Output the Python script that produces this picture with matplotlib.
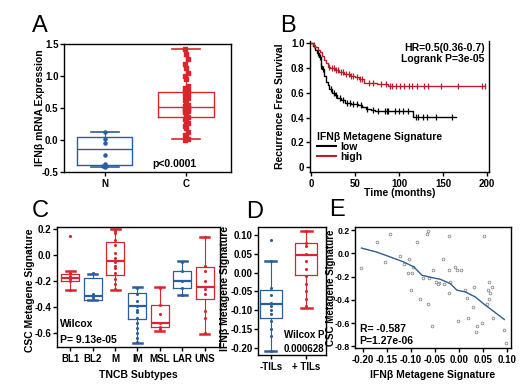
import numpy as np
import matplotlib
matplotlib.use("Agg")
import matplotlib.pyplot as plt
from matplotlib.lines import Line2D

plt.rcParams['font.family'] = ['Liberation Sans', 'DejaVu Sans']
plt.rcParams['font.weight'] = 'bold'
plt.rcParams['axes.labelweight'] = 'bold'
plt.rcParams['axes.linewidth'] = 1.0
plt.rcParams['xtick.major.width'] = 1.0
plt.rcParams['ytick.major.width'] = 1.0
plt.rcParams['xtick.major.size'] = 3
plt.rcParams['ytick.major.size'] = 3
plt.rcParams['xtick.major.pad'] = 2
plt.rcParams['ytick.major.pad'] = 1

RED = '#d8262c'
BLUE = '#2b5e9c'
W, H = 532, 389

# ---------------- data ----------------
# Panel A
a_groups = ['N', 'C']
a_stats_N = dict(whislo=-0.42, q1=-0.385, med=-0.145, q3=0.04, whishi=0.12)
a_stats_C = dict(whislo=0.01, q1=0.355, med=0.52, q3=0.745, whishi=1.42)
a_pts_N = [0.12, 0.02, -0.05, -0.24, -0.37, -0.40, -0.41, -0.42]
a_pts_C = [1.42, 1.35, 1.27, 1.18, 1.12, 1.05, 1.0, 0.95, 0.85, 0.82, 0.80, 0.78,
           0.76, 0.74, 0.72, 0.70, 0.68, 0.65, 0.62, 0.58, 0.55, 0.53, 0.52, 0.51,
           0.50, 0.49, 0.48, 0.47, 0.46, 0.45, 0.43, 0.40, 0.36, 0.33, 0.30, 0.27,
           0.22, 0.18, 0.12, 0.08, 0.04, 0.01, 0.0]

# Panel B (Kaplan-Meier)
low_t = [0, 2, 5, 7, 9, 11, 12, 13, 15, 17, 19, 21, 24, 27, 30, 34, 39, 45, 54, 58, 62, 68, 73, 116, 165]
low_s = [1.0, 0.98, 0.95, 0.92, 0.89, 0.86, 0.82, 0.79, 0.74, 0.69, 0.66, 0.63, 0.60, 0.58, 0.56, 0.54, 0.52, 0.51, 0.50, 0.485, 0.47, 0.46, 0.45, 0.405, 0.405]
low_cens = [8, 10, 12, 14, 23, 26, 29, 33, 36, 41, 44, 48, 52, 57, 64, 70, 76, 84, 86, 88,
            95, 100, 105, 110, 119, 122, 127, 132, 142, 160]
high_t = [0, 2, 5, 8, 10, 13, 15, 17, 19, 22, 27, 32, 38, 44, 50, 55, 60, 75, 88, 197]
high_s = [1.0, 0.99, 0.97, 0.95, 0.93, 0.90, 0.87, 0.84, 0.81, 0.80, 0.785, 0.77, 0.755, 0.74, 0.725, 0.71, 0.68, 0.67, 0.658, 0.658]
high_cens = [4, 20, 24, 26, 29, 31, 34, 36, 40, 43, 46, 48, 52, 56, 58, 66, 71, 80, 85,
             90, 92, 97, 101, 106, 111, 115, 120, 128, 133, 147, 167, 194, 197]

# Panel C
c_cats = ['BL1', 'BL2', 'M', 'IM', 'MSL', 'LAR', 'UNS']
c_colors = [RED, BLUE, RED, BLUE, RED, BLUE, RED]
c_whislo = [-0.27, -0.343, -0.27, -0.675, -0.585, -0.31, -0.605]
c_q1 = [-0.195, -0.343, -0.155, -0.495, -0.552, -0.255, -0.34]
c_med = [-0.178, -0.315, -0.046, -0.39, -0.523, -0.196, -0.243]
c_q3 = [-0.142, -0.172, 0.10, -0.29, -0.385, -0.125, -0.091]
c_whishi = [-0.125, -0.142, 0.198, -0.243, -0.243, -0.046, 0.138]
c_pts = [[0.15, -0.14, -0.16, -0.18, -0.20, -0.27],
         [-0.14, -0.30, -0.32, -0.34],
         [0.19, 0.17, 0.12, 0.08, 0.02, -0.02, -0.05, -0.08, -0.10, -0.14, -0.18, -0.22, -0.26],
         [-0.25, -0.30, -0.35, -0.39, -0.42, -0.44, -0.48, -0.52, -0.56, -0.60, -0.64, -0.67],
         [-0.25, -0.38, -0.45, -0.52, -0.55, -0.57],
         [-0.05, -0.12, -0.20, -0.25, -0.31],
         [0.14, -0.08, -0.12, -0.20, -0.26, -0.30, -0.43, -0.48, -0.60]]

# Panel D
d_cats = ['-TILs', '+ TILs']
d_colors = [BLUE, RED]
d_whislo = [-0.21, -0.095]
d_q1 = [-0.12, -0.006]
d_med = [-0.085, 0.047]
d_q3 = [-0.045, 0.078]
d_whishi = [0.032, 0.11]
d_pts = [[0.087, 0.03, -0.04, -0.06, -0.08, -0.09, -0.10, -0.11, -0.13, -0.15, -0.17, -0.21],
         [0.11, 0.08, 0.07, 0.05, 0.03, 0.01, -0.01, -0.03, -0.05, -0.07, -0.09]]

# Panel E
e_x = [-0.2035, -0.172, -0.143, -0.154, -0.124, -0.115, -0.105, -0.107, -0.096, -0.097,
       -0.0875, -0.067, -0.065, -0.101, -0.081, -0.065, -0.056, -0.075, -0.062, -0.053,
       -0.048, -0.041, -0.044, -0.033, -0.032, -0.020, -0.020, -0.020, -0.009, -0.004,
       0.005, -0.018, -0.001, 0.013, 0.017, 0.019, 0.029, 0.032, 0.0375, 0.036,
       0.048, 0.052, 0.058, 0.060, 0.064, 0.069, 0.065, 0.064, 0.072, 0.095, 0.098]
e_y = [-0.123, 0.097, 0.168, -0.075, -0.026, -0.095, -0.052, -0.169, -0.117, -0.169,
       0.097, 0.163, 0.191, -0.317, -0.389, -0.434, -0.623, -0.212, -0.212, -0.146,
       -0.246, -0.255, -0.266, -0.052, -0.266, 0.146, -0.146, -0.340, -0.117, -0.146,
       -0.146, -0.246, -0.583, -0.317, -0.383, -0.560, -0.460, -0.289, -0.623, -0.674,
       -0.603, 0.146, -0.432, -0.317, -0.246, -0.289, -0.337, -0.389, -0.560, -0.655, -0.775]
fit_x = [-0.2035, -0.172, -0.143, -0.115, -0.094, -0.077, -0.056, -0.039, -0.018, -0.004,
         0.013, 0.0345, 0.051, 0.072, 0.095]
fit_y = [0.045, 0.011, -0.032, -0.075, -0.117, -0.189, -0.209, -0.223, -0.260, -0.317,
         -0.332, -0.375, -0.432, -0.497, -0.569]

# ---------------- helpers ----------------
fig = plt.figure(figsize=(W / 100, H / 100), dpi=100)


def add_ax(l, r, t, b):
    return fig.add_axes([l / W, 1 - b / H, (r - l) / W, (b - t) / H])


def draw_boxes(ax, pos, whislo, q1, med, q3, whishi, colors, width, capw,
               medlw=1.0, caplw=1.0, boxlw=1.0):
    stats = [dict(whislo=a, q1=b, med=c, q3=d, whishi=e, fliers=[])
             for a, b, c, d, e in zip(whislo, q1, med, q3, whishi)]
    art = ax.bxp(stats, positions=pos, widths=width, showfliers=False,
                 capwidths=capw, patch_artist=False, manage_ticks=False)
    for i, col in enumerate(colors):
        art['boxes'][i].set(color=col, linewidth=boxlw)
        art['medians'][i].set(color=col, linewidth=medlw)
        for k in (2 * i, 2 * i + 1):
            art['whiskers'][k].set(color=col, linewidth=0.8)
            art['caps'][k].set(color=col, linewidth=caplw)


def letter(x, y, s):
    fig.text(x / W, 1 - y / H, s, fontsize=17, fontweight='normal', ha='center', va='center')


FS = 7
LFS = 7.5
# ---------------- Panel A ----------------
axA = add_ax(64, 231, 44, 172)
draw_boxes(axA, [0, 1], [a_stats_N['whislo'], a_stats_C['whislo']],
           [a_stats_N['q1'], a_stats_C['q1']], [a_stats_N['med'], a_stats_C['med']],
           [a_stats_N['q3'], a_stats_C['q3']], [a_stats_N['whishi'], a_stats_C['whishi']],
           [BLUE, RED], 0.68, 0.34, medlw=1.0, caplw=1.2)
offs_N = [0.0, 0.0, 0.0, 0.0, 0.0, 0.02, -0.02, 0.0]
axA.scatter(np.zeros(len(a_pts_N)) + np.array(offs_N), a_pts_N, s=5, color=BLUE, zorder=3)
offs_C = [(-0.02, 0.0, 0.02)[i % 3] for i in range(len(a_pts_C))]
axA.scatter(np.ones(len(a_pts_C)) + np.array(offs_C), a_pts_C, s=9, marker='s',
            color=RED, zorder=3)
axA.set_xlim(-0.5, 1.55)
axA.set_ylim(-0.5, 1.5)
axA.set_yticks([-0.5, 0.0, 0.5, 1.0, 1.5])
axA.set_yticklabels(['-0.5', '0.0', '0.5', '1.0', '1.5'])
axA.set_xticks([0, 1])
axA.set_xticklabels(a_groups)
axA.tick_params(labelsize=FS)
axA.set_ylabel('IFNβ mRNA Expression', fontsize=LFS)
axA.yaxis.set_label_coords(-0.114, 0.5)
axA.text(0.85, -0.38, 'p<0.0001', fontsize=7.5, ha='center', va='center')
letter(40, 26, 'A')

# ---------------- Panel B ----------------
axB = add_ax(310, 489, 41, 172)
axB.plot(low_t, low_s, drawstyle='steps-post', color='black', lw=1.0, zorder=3)
axB.plot(high_t, high_s, drawstyle='steps-post', color='#b5202a', lw=1.0, zorder=3)


def surv_at(ts, ss, t):
    idx = np.searchsorted(ts, t, side='right') - 1
    return np.array(ss)[idx]


axB.plot(low_cens, surv_at(low_t, low_s, low_cens), ls='none', marker='|', ms=4,
         mew=0.9, color='black', zorder=4)
axB.plot(high_cens, surv_at(high_t, high_s, high_cens), ls='none', marker='|', ms=4,
         mew=0.9, color='#b5202a', zorder=4)
axB.set_xlim(-1, 202)
axB.set_ylim(-0.04, 1.02)
axB.set_xticks([0, 50, 100, 150, 200])
axB.set_yticks([0, 0.2, 0.4, 0.6, 0.8, 1.0])
axB.set_yticklabels(['0', '0.2', '0.4', '0.6', '0.8', '1.0'])
axB.spines['top'].set_visible(False)
axB.tick_params(labelsize=FS)
axB.set_xlabel('Time (months)', fontsize=LFS)
axB.set_ylabel('Recurrence Free Survival', fontsize=LFS)
axB.yaxis.set_label_coords(-0.14, 0.5)
axB.xaxis.set_label_coords(0.5, -0.125)
axB.text(0.975, 0.985, 'HR=0.5(0.36-0.7)\nLogrank P=3e-05', transform=axB.transAxes,
         fontsize=7.5, ha='right', va='top', linespacing=1.15)
handles = [Line2D([], [], color='black', lw=1.5), Line2D([], [], color='#b5202a', lw=1.5)]
leg = axB.legend(handles, ['low', 'high'], title='IFNβ Metagene Signature', loc='lower left',
                 bbox_to_anchor=(0.0, 0.02), frameon=False, fontsize=7.5,
                 title_fontproperties={'weight': 'bold', 'size': 7.5},
                 handlelength=1.8, handletextpad=0.4, labelspacing=0.0, borderpad=0.2)
leg._legend_box.align = 'left'
letter(288, 26, 'B')

# ---------------- Panel C ----------------
axC = add_ax(57, 220, 227, 347)
cpos = np.arange(len(c_cats))
draw_boxes(axC, cpos, c_whislo, c_q1, c_med, c_q3, c_whishi, c_colors, 0.8, 0.4,
           medlw=1.6, caplw=1.8, boxlw=0.9)
for i, pts in enumerate(c_pts):
    axC.scatter(np.full(len(pts), cpos[i]), pts, s=1.5, color=c_colors[i], zorder=3)
axC.set_xlim(-0.58, 6.67)
axC.set_ylim(-0.707, 0.217)
axC.set_yticks([-0.6, -0.4, -0.2, 0.0, 0.2])
axC.set_yticklabels(['-0.6', '-0.4', '-0.2', '0.0', '0.2'])
axC.set_xticks(cpos)
axC.set_xticklabels(c_cats)
axC.tick_params(labelsize=FS)
axC.set_xlabel('TNCB Subtypes', fontsize=LFS)
axC.set_ylabel('CSC Metagene Signature', fontsize=LFS)
axC.yaxis.set_label_coords(-0.135, 0.47)
axC.text(0.02, 0.19, 'Wilcox', transform=axC.transAxes, fontsize=7.5, ha='left', va='center')
axC.text(0.02, 0.06, 'P= 9.13e-05', transform=axC.transAxes, fontsize=7.5, ha='left', va='center')
letter(40, 211, 'C')

# ---------------- Panel D ----------------
axD = add_ax(258, 326, 227, 355)
dpos = np.arange(2)
draw_boxes(axD, dpos, d_whislo, d_q1, d_med, d_q3, d_whishi, d_colors, 0.62, 0.31,
           medlw=1.6, caplw=1.8, boxlw=0.9)
for i, pts in enumerate(d_pts):
    axD.scatter(np.full(len(pts), dpos[i]), pts, s=1.5, color=d_colors[i], zorder=3)
axD.set_xlim(-0.36, 1.55)
axD.set_ylim(-0.22, 0.122)
axD.set_yticks([-0.20, -0.15, -0.10, -0.05, 0.0, 0.05, 0.10])
axD.set_yticklabels(['-0.20', '-0.15', '-0.10', '-0.05', '0.00', '0.05', '0.10'])
axD.set_xticks(dpos)
axD.set_xticklabels(d_cats)
axD.tick_params(labelsize=FS)
axD.set_ylabel('IFNβ Metagene Signature', fontsize=LFS)
axD.yaxis.set_label_coords(-0.41, 0.52)
axD.text(324.5 / W, 1 - 335 / H, 'Wilcox P', transform=fig.transFigure, fontsize=7,
         ha='right', va='center')
axD.text(324.5 / W, 1 - 349 / H, '0.000628', transform=fig.transFigure, fontsize=7,
         ha='right', va='center')
letter(255, 212, 'D')

# ---------------- Panel E ----------------
axE = add_ax(355, 511, 227, 348)
axE.scatter(e_x, e_y, s=4, facecolors='white', edgecolors='#777777', linewidths=0.5, zorder=2)
axE.plot(fit_x, fit_y, color='#2f5f8f', lw=1.0, zorder=3)
axE.set_xlim(-0.217, 0.109)
axE.set_ylim(-0.814, 0.226)
axE.set_xticks([-0.20, -0.15, -0.10, -0.05, 0.0, 0.05, 0.10])
axE.set_xticklabels(['-0.20', '-0.15', '-0.10', '-0.05', '0.00', '0.05', '0.10'])
axE.set_yticks([-0.8, -0.6, -0.4, -0.2, 0.0, 0.2])
axE.set_yticklabels(['-0.8', '-0.6', '-0.4', '-0.2', '0.0', '0.2'])
axE.tick_params(axis='x', labelsize=FS)
axE.tick_params(axis='y', labelsize=6.2, pad=0.5)
axE.set_xlabel('IFNβ Metagene Signature', fontsize=LFS)
axE.set_ylabel('CSC Metagene Signature', fontsize=7)
axE.yaxis.set_label_coords(-0.125, 0.5)
axE.text(0.03, 0.16, 'R= -0.587', transform=axE.transAxes, fontsize=7.5, ha='left', va='center')
axE.text(0.03, 0.06, 'P=1.27e-06', transform=axE.transAxes, fontsize=7.5, ha='left', va='center')
letter(337, 210, 'E')

fig.savefig('out.png', dpi=100, facecolor='white')
